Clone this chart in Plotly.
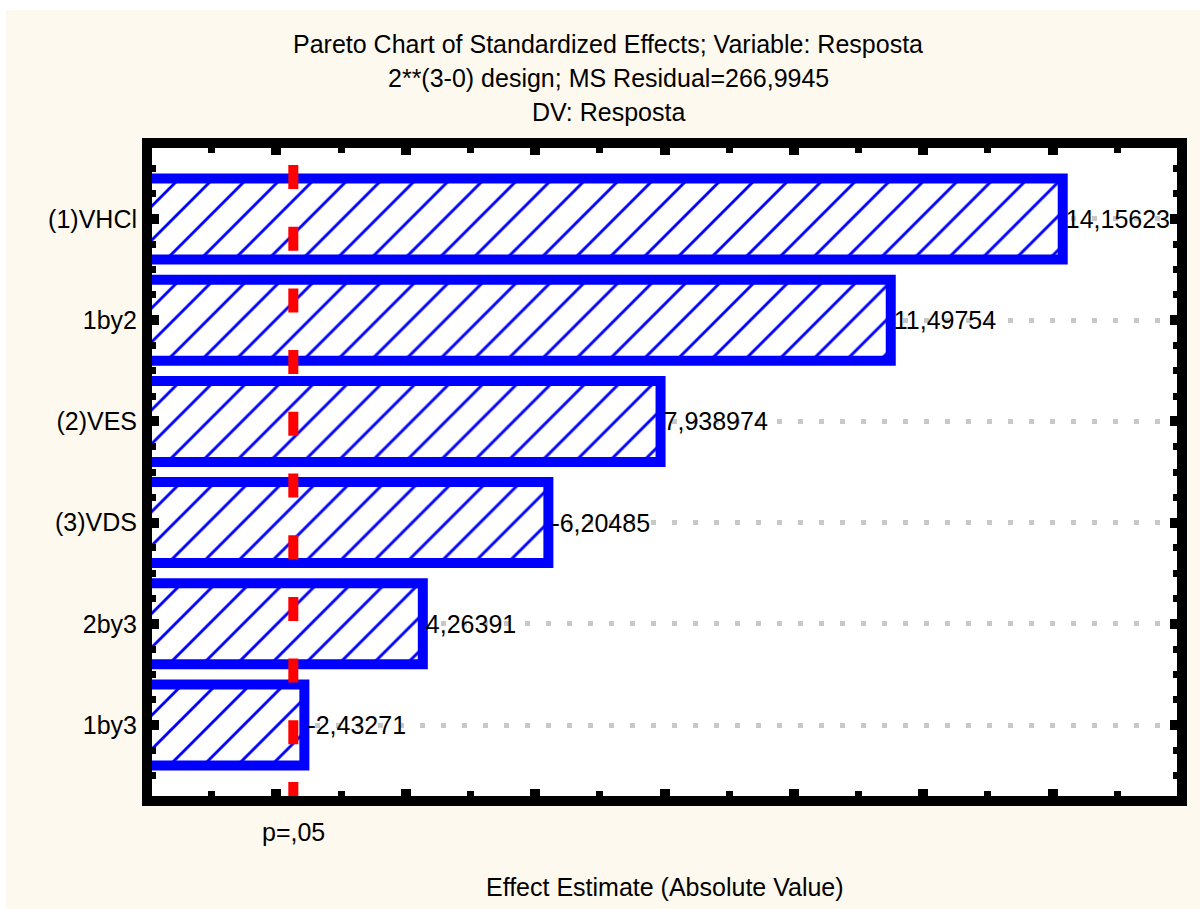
import plotly.graph_objects as go

# Effects and their standardized estimates (t values)
effects = ["(1)VHCl", "1by2", "(2)VES", "(3)VDS", "2by3", "1by3"]
estimates = [14.15623, 11.49754, 7.938974, -6.20485, 4.26391, -2.43271]
p_critical = 2.262          # t(0,975; 9) reference line
p_label = "p=,05"
x_range = [0, 16]
title_lines = [
    "Pareto Chart of Standardized Effects; Variable: Resposta",
    "2**(3-0) design; MS Residual=266,9945",
    "DV: Resposta",
]
x_title = "Effect Estimate (Absolute Value)"

# Page geometry
W, H = 1200, 909
L, R, T, B = 147, 18, 143, 108
PW, PH = W - L - R, H - T - B

FONT = "Arial, 'Liberation Sans', sans-serif"
FS = 25
CREAM = "#fef9ee"
BLUE = "#0000ff"


def px_x(px):
    return (px - L) / PW


def px_y(py):
    return (H - B - py) / PH


abs_vals = [abs(v) for v in estimates]
value_text = [f"{v:.7g}".replace(".", ",") for v in estimates]
pos = list(range(len(effects)))
y_range = [len(effects) - 0.25, -0.75]

fig = go.Figure()

fig.add_trace(go.Bar(
    x=abs_vals, y=pos, orientation="h", width=0.8,
    marker=dict(
        color="white",
        line=dict(color=BLUE, width=10),
        pattern=dict(shape="/", fgcolor=BLUE, bgcolor="white",
                     size=24, solidity=0.12, fillmode="replace"),
    ),
    text=value_text, textposition="outside",
    textfont=dict(family=FONT, size=FS, color="black"),
    cliponaxis=False, constraintext="none",
    hoverinfo="skip", showlegend=False,
))

# Critical value line, dashed, spanning the full category range
fig.add_trace(go.Scatter(
    x=[p_critical, p_critical], y=[y_range[1], y_range[0]],
    mode="lines",
    line=dict(color="#ff0000", width=10, dash="0px,22px,24px,15.7px"),
    hoverinfo="skip", showlegend=False,
))

shapes = [
    # white strips along the top and left page edges
    dict(type="rect", xref="paper", yref="paper",
         x0=px_x(0), x1=px_x(6), y0=px_y(H), y1=px_y(0),
         fillcolor="white", line=dict(width=0), layer="below"),
    dict(type="rect", xref="paper", yref="paper",
         x0=px_x(0), x1=px_x(W), y0=px_y(10), y1=px_y(0),
         fillcolor="white", line=dict(width=0), layer="below"),
    # heavy frame around the plot area
    dict(type="rect", xref="paper", yref="paper", x0=0, x1=1, y0=0, y1=1,
         line=dict(color="black", width=10), layer="above"),
]

annotations = []
for i, line in enumerate(title_lines):
    annotations.append(dict(
        text=line, xref="paper", yref="paper", x=px_x(608), y=px_y(44 + 34 * i),
        xanchor="center", yanchor="middle", showarrow=False,
        font=dict(family=FONT, size=FS, color="black"),
    ))
annotations.append(dict(
    text=p_label, xref="x", yref="paper", x=p_critical, y=px_y(832),
    xanchor="center", yanchor="middle", showarrow=False,
    font=dict(family=FONT, size=FS, color="black"),
))
annotations.append(dict(
    text=x_title, xref="paper", yref="paper", x=0.5, y=px_y(887),
    xanchor="center", yanchor="middle", showarrow=False,
    font=dict(family=FONT, size=FS, color="black"),
))

fig.update_layout(
    width=W, height=H,
    margin=dict(l=L, r=R, t=T, b=B, pad=0),
    paper_bgcolor=CREAM, plot_bgcolor="white",
    font=dict(family=FONT, size=FS, color="black"),
    shapes=shapes, annotations=annotations,
    bargap=0.2,
    xaxis=dict(
        range=x_range, showline=False, zeroline=False, showgrid=False,
        showticklabels=False, ticks="inside", tickmode="linear",
        tick0=0, dtick=2, ticklen=12, tickwidth=10, tickcolor="black",
        mirror="allticks",
        minor=dict(ticks="inside", tick0=0, dtick=1, ticklen=10,
                   tickwidth=7, tickcolor="black", showgrid=False),
    ),
    yaxis=dict(
        range=y_range, showline=False, zeroline=False,
        tickmode="array", tickvals=pos, ticktext=effects,
        tickfont=dict(family=FONT, size=FS, color="black"),
        ticklabelstandoff=9,
        ticks="inside", ticklen=12, tickwidth=10, tickcolor="black",
        mirror="allticks",
        showgrid=True, gridcolor="#c8c8c8", gridwidth=5,
        griddash="5px,16px",
        minor=dict(ticks="inside", tick0=0, dtick=0.25, ticklen=9,
                   tickwidth=7, tickcolor="black", showgrid=False),
    ),
)

fig.write_html("out.html")
